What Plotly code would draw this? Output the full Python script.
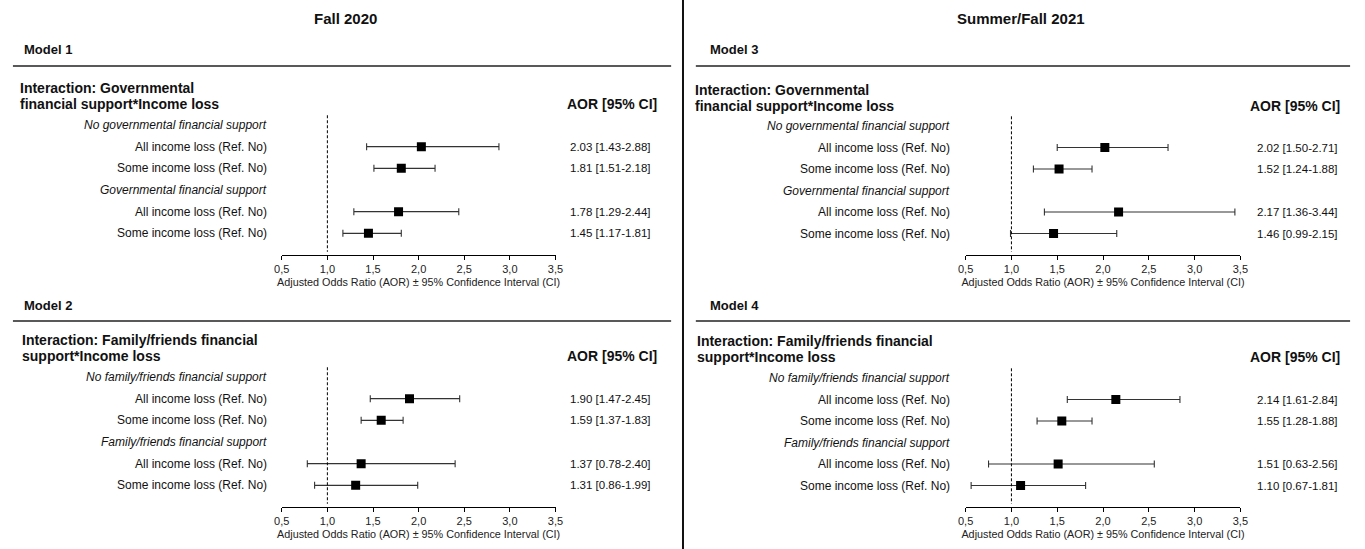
import plotly.graph_objects as go

# ---------------- data ----------------
period_titles = ["Fall 2020", "Summer/Fall 2021"]
model_names = ["Model 1", "Model 2", "Model 3", "Model 4"]
interaction_line1 = ["Interaction: Governmental", "Interaction: Family/friends financial",
                     "Interaction: Governmental", "Interaction: Family/friends financial"]
interaction_line2 = ["financial support*Income loss", "support*Income loss",
                     "financial support*Income loss", "support*Income loss"]
group_no = ["No governmental financial support", "No family/friends financial support",
            "No governmental financial support", "No family/friends financial support"]
group_yes = ["Governmental financial support", "Family/friends financial support",
             "Governmental financial support", "Family/friends financial support"]
row_labels = ["All income loss (Ref. No)", "Some income loss (Ref. No)",
              "All income loss (Ref. No)", "Some income loss (Ref. No)"]

m1_aor = [2.03, 1.81, 1.78, 1.45]
m1_lo = [1.43, 1.51, 1.29, 1.17]
m1_hi = [2.88, 2.18, 2.44, 1.81]
m1_txt = ["2.03 [1.43-2.88]", "1.81 [1.51-2.18]", "1.78 [1.29-2.44]", "1.45 [1.17-1.81]"]

m2_aor = [1.90, 1.59, 1.37, 1.31]
m2_lo = [1.47, 1.37, 0.78, 0.86]
m2_hi = [2.45, 1.83, 2.40, 1.99]
m2_txt = ["1.90 [1.47-2.45]", "1.59 [1.37-1.83]", "1.37 [0.78-2.40]", "1.31 [0.86-1.99]"]

m3_aor = [2.02, 1.52, 2.17, 1.46]
m3_lo = [1.50, 1.24, 1.36, 0.99]
m3_hi = [2.71, 1.88, 3.44, 2.15]
m3_txt = ["2.02 [1.50-2.71]", "1.52 [1.24-1.88]", "2.17 [1.36-3.44]", "1.46 [0.99-2.15]"]

m4_aor = [2.14, 1.55, 1.51, 1.10]
m4_lo = [1.61, 1.28, 0.75, 0.56]
m4_hi = [2.84, 1.88, 2.56, 1.81]
m4_txt = ["2.14 [1.61-2.84]", "1.55 [1.28-1.88]", "1.51 [0.63-2.56]", "1.10 [0.67-1.81]"]

x_ticks = [0.5, 1.0, 1.5, 2.0, 2.5, 3.0, 3.5]
axis_title = "Adjusted Odds Ratio (AOR) ± 95% Confidence Interval (CI)"
aor_header = "AOR [95% CI]"

# ---------------- layout helpers ----------------
W, H = 1365, 549
def px(x):
    return x / W
def py(y):
    return 1 - y / H

FONT = "Liberation Sans, Arial, sans-serif"

models = [
    (m1_aor, m1_lo, m1_hi, m1_txt),
    (m2_aor, m2_lo, m2_hi, m2_txt),
    (m3_aor, m3_lo, m3_hi, m3_txt),
    (m4_aor, m4_lo, m4_hi, m4_txt),
]
panels = [
    dict(x0=277, x1=554, lab=264, val=653, hdr=125, ax=255, mx=14, my=49, rule=66, rx0=5, rx1=671,
         ix=10, iy=88, aorx=659),
    dict(x0=277, x1=554, lab=264, val=653, hdr=377, ax=507, mx=14, my=305, rule=321, rx0=5, rx1=671,
         ix=12, iy=340, aorx=659),
    dict(x0=969, x1=1247, lab=955, val=1348, hdr=126, ax=255, mx=708, my=50, rule=66, rx0=696, rx1=1358,
         ix=693, iy=90, aorx=1350),
    dict(x0=969, x1=1247, lab=955, val=1348, hdr=378, ax=507, mx=708, my=305, rule=321, rx0=696, rx1=1358,
         ix=695, iy=341, aorx=1350),
]
row_pos = [1, 2, 4, 5]

fig = go.Figure()
annotations = []
shapes = []
layout_axes = {}

for i, ((aor, lo, hi, txt), p) in enumerate(zip(models, panels)):
    n = "" if i == 0 else str(i + 1)
    xa, ya = "x" + n, "y" + n
    step = (p["ax"] - p["hdr"]) / 6.0
    top = p["hdr"] - 0.6 * step
    fig.add_trace(go.Scatter(
        x=aor, y=row_pos, xaxis=xa, yaxis=ya, mode="markers",
        marker=dict(symbol="square", size=9, color="black"),
        error_x=dict(type="data", symmetric=False,
                     array=[h - a for h, a in zip(hi, aor)],
                     arrayminus=[a - l for a, l in zip(aor, lo)],
                     color="#333333", thickness=1.1, width=3.5),
        showlegend=False, hoverinfo="skip",
    ))
    layout_axes["xaxis" + n] = dict(
        domain=[px(p["x0"]), px(p["x1"])], range=[0.5, 3.5], anchor=ya,
        tickvals=x_ticks, tickformat=".1f", showline=True, linecolor="black", linewidth=1.3,
        ticks="outside", ticklen=4, tickcolor="black", tickwidth=1.2, showgrid=False, zeroline=False,
        tickfont=dict(family=FONT, size=11, color="#222"),
        title=dict(text=axis_title, font=dict(family=FONT, size=10.8, color="#222"), standoff=4),
        fixedrange=True,
    )
    layout_axes["yaxis" + n] = dict(
        domain=[py(p["ax"]), py(top)], range=[6, -0.6], anchor=xa, visible=False, fixedrange=True,
    )
    shapes.append(dict(type="line", xref=xa, yref=ya, x0=1, x1=1, y0=-0.45, y1=5.85,
                       line=dict(color="black", width=1, dash="3px,2px")))
    annotations.append(dict(text="<i>" + group_no[i] + "</i>", x=px(p["lab"]), xref="paper", y=0, yref=ya,
                            xanchor="right", yanchor="middle", showarrow=False,
                            font=dict(family=FONT, size=12, color="#111")))
    annotations.append(dict(text="<i>" + group_yes[i] + "</i>", x=px(p["lab"]), xref="paper", y=3, yref=ya,
                            xanchor="right", yanchor="middle", showarrow=False,
                            font=dict(family=FONT, size=12, color="#111")))
    for lbl, yy, t in zip(row_labels, row_pos, txt):
        annotations.append(dict(text=lbl, x=px(p["lab"]), xref="paper", y=yy, yref=ya,
                                xanchor="right", yanchor="middle", showarrow=False,
                                font=dict(family=FONT, size=12, color="#111")))
        annotations.append(dict(text=t, x=px(p["val"]), xref="paper", y=yy, yref=ya,
                                xanchor="right", yanchor="middle", showarrow=False,
                                font=dict(family=FONT, size=11.5, color="#111")))
    annotations.append(dict(text="<b>" + model_names[i] + "</b>", x=px(p["mx"]), y=py(p["my"]),
                            xref="paper", yref="paper", xanchor="left", yanchor="middle", showarrow=False,
                            font=dict(family=FONT, size=13, color="#111")))
    annotations.append(dict(text="<b>" + interaction_line1[i] + "</b>", x=px(p["ix"]), y=py(p["iy"]),
                            xref="paper", yref="paper", xanchor="left", yanchor="middle", showarrow=False,
                            font=dict(family=FONT, size=14, color="#111")))
    annotations.append(dict(text="<b>" + interaction_line2[i] + "</b>", x=px(p["ix"]), y=py(p["iy"] + 16),
                            xref="paper", yref="paper", xanchor="left", yanchor="middle", showarrow=False,
                            font=dict(family=FONT, size=14, color="#111")))
    annotations.append(dict(text="<b>" + aor_header + "</b>", x=px(p["aorx"]), y=py(p["iy"] + 16),
                            xref="paper", yref="paper", xanchor="right", yanchor="middle", showarrow=False,
                            font=dict(family=FONT, size=14, color="#111")))
    shapes.append(dict(type="line", xref="paper", yref="paper", x0=px(p["rx0"]), x1=px(p["rx1"]),
                       y0=py(p["rule"]), y1=py(p["rule"]), line=dict(color="#222", width=1.3)))

for t, cx in zip(period_titles, [342, 1025]):
    annotations.append(dict(text="<b>" + t + "</b>", x=px(cx), y=py(18), xref="paper", yref="paper",
                            xanchor="center", yanchor="middle", showarrow=False,
                            font=dict(family=FONT, size=15, color="#111")))
shapes.append(dict(type="line", xref="paper", yref="paper", x0=px(683), x1=px(683), y0=0, y1=1,
                   line=dict(color="#111", width=2)))

fig.update_layout(
    width=W, height=H, margin=dict(l=0, r=0, t=0, b=0),
    paper_bgcolor="white", plot_bgcolor="white",
    separators=",.", showlegend=False,
    annotations=annotations, shapes=shapes, **layout_axes,
)
fig.write_html("out.html", config={"displayModeBar": False},
               post_script="document.body.style.margin='0px';document.body.style.overflow='hidden';")
